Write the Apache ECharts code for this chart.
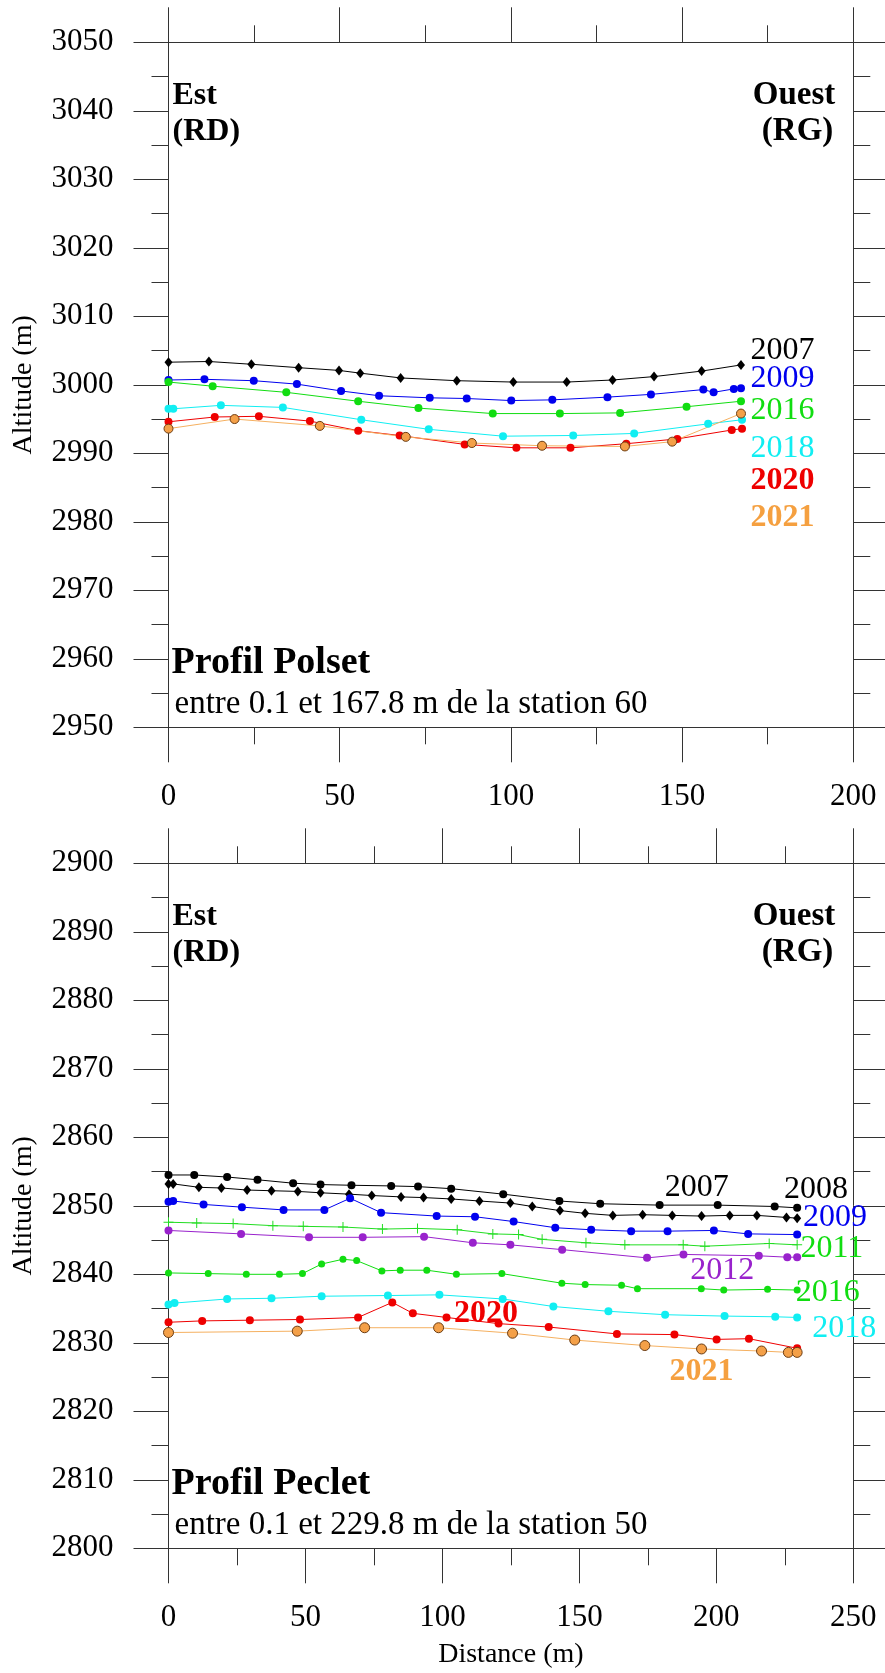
<!DOCTYPE html>
<html><head><meta charset="utf-8">
<script src="https://cdn.jsdelivr.net/npm/echarts@6/dist/echarts.min.js"></script>
<style>html,body{margin:0;padding:0;background:#fff}#c{width:885px;height:1673px}</style>
</head><body><div id="c"></div>
<script>
const FONT = '"Liberation Serif","Times New Roman",serif';

// ---------- Profil Polset (distance m, altitude m) ----------
const polset2007 = [[0,3003.3],[11.8,3003.4],[24.2,3003.0],[38.0,3002.5],[49.8,3002.1],[56.0,3001.7],[67.8,3001.0],[84.2,3000.6],[100.7,3000.4],[116.3,3000.4],[129.7,3000.7],[141.8,3001.2],[155.7,3002.0],[167.2,3002.9]];
const polset2009 = [[0,3000.7],[10.5,3000.8],[24.9,3000.6],[37.5,3000.1],[50.4,2999.1],[61.5,2998.4],[76.3,2998.1],[87.1,2998.0],[100.1,2997.7],[112.1,2997.8],[128.2,2998.2],[140.9,2998.6],[156.2,2999.3],[159.2,2998.9],[165.1,2999.4],[167.2,2999.5]];
const polset2016 = [[0,3000.4],[12.9,2999.8],[34.4,2998.9],[55.4,2997.6],[73.0,2996.6],[94.7,2995.8],[114.3,2995.8],[131.9,2995.9],[151.3,2996.8],[167.2,2997.6]];
const polset2018 = [[0,2996.5],[1.4,2996.5],[15.3,2997.0],[33.4,2996.7],[56.3,2994.9],[76.0,2993.5],[97.7,2992.5],[118.2,2992.6],[136.0,2992.9],[157.6,2994.3],[167.5,2994.9]];
const polset2020 = [[0,2994.6],[13.5,2995.3],[26.4,2995.4],[41.3,2994.7],[55.4,2993.3],[67.5,2992.6],[86.5,2991.3],[101.6,2990.8],[117.4,2990.8],[133.7,2991.4],[148.6,2992.1],[164.5,2993.4],[167.5,2993.6]];
const polset2021 = [[0,2993.6],[19.3,2995.0],[44.2,2994.0],[69.3,2992.4],[88.6,2991.5],[109.1,2991.1],[133.3,2991.0],[147.1,2991.7],[167.2,2995.8]];

// ---------- Profil Peclet ----------
const peclet2007 = [[0,2854.5],[9.4,2854.5],[21.4,2854.2],[32.5,2853.8],[45.5,2853.3],[55.5,2853.1],[66.8,2853.0],[81.3,2852.9],[91.1,2852.8],[103.2,2852.5],[122.2,2851.7],[142.7,2850.7],[157.6,2850.3],[179.3,2850.1],[200.5,2850.1],[221.3,2849.9],[229.5,2849.7]];
const peclet2008 = [[0,2853.2],[1.7,2853.2],[11.1,2852.7],[19.3,2852.6],[28.7,2852.3],[37.6,2852.2],[47.2,2852.1],[55.5,2851.9],[65.9,2851.7],[74.2,2851.5],[84.9,2851.3],[93.1,2851.2],[103.2,2851.0],[113.5,2850.7],[124.8,2850.4],[132.8,2849.9],[142.9,2849.3],[152.1,2848.9],[162.2,2848.6],[173.1,2848.7],[183.9,2848.6],[194.6,2848.5],[204.9,2848.6],[214.8,2848.6],[225.6,2848.3],[229.5,2848.2]];
const peclet2009 = [[0,2850.6],[1.7,2850.7],[12.8,2850.2],[26.8,2849.8],[42.0,2849.4],[56.9,2849.4],[66.3,2851.1],[77.6,2849.0],[97.9,2848.5],[111.9,2848.4],[126.0,2847.7],[141.2,2846.8],[154.3,2846.5],[168.9,2846.3],[182.2,2846.3],[199.1,2846.4],[211.6,2845.9],[229.5,2845.8]];
const peclet2011 = [[0,2847.6],[10.3,2847.5],[23.6,2847.4],[38.1,2847.1],[49.2,2847.0],[63.7,2846.9],[78.1,2846.6],[90.9,2846.7],[105.4,2846.5],[118.4,2845.9],[127.8,2845.8],[136.4,2845.1],[152.4,2844.6],[166.6,2844.3],[187.9,2844.3],[195.8,2844.1],[219.3,2844.5],[229.5,2844.3]];
const peclet2012 = [[0,2846.4],[26.5,2845.9],[51.3,2845.4],[70.9,2845.4],[93.3,2845.5],[111.1,2844.6],[124.8,2844.3],[143.7,2843.6],[174.7,2842.4],[188.0,2842.9],[215.5,2842.7],[225.9,2842.5],[229.5,2842.5]];
const peclet2016 = [[0,2840.2],[14.5,2840.1],[28.4,2840.0],[40.5,2840.0],[48.9,2840.1],[55.9,2841.5],[63.7,2842.2],[68.7,2842.0],[77.9,2840.5],[84.6,2840.6],[94.3,2840.6],[105.1,2840.0],[121.7,2840.1],[143.6,2838.7],[152.1,2838.5],[165.4,2838.4],[171.2,2837.9],[194.5,2837.9],[202.7,2837.7],[218.7,2837.8],[229.5,2837.7]];
const peclet2018 = [[0,2835.6],[2.2,2835.8],[21.4,2836.4],[37.6,2836.5],[55.9,2836.8],[80.1,2836.9],[98.9,2837.0],[122.0,2836.4],[140.5,2835.3],[160.6,2834.6],[181.3,2834.1],[203.0,2833.9],[221.5,2833.8],[229.5,2833.7]];
const peclet2020 = [[0,2833.0],[12.3,2833.2],[29.7,2833.3],[48.0,2833.4],[69.2,2833.7],[81.7,2835.9],[89.2,2834.3],[101.5,2833.7],[120.5,2832.8],[138.8,2832.3],[163.7,2831.3],[184.7,2831.2],[200.1,2830.5],[211.9,2830.6],[229.5,2829.2]];
const peclet2021 = [[0,2831.5],[47.0,2831.7],[71.6,2832.2],[98.6,2832.2],[125.6,2831.4],[148.3,2830.4],[173.9,2829.6],[194.6,2829.1],[216.5,2828.8],[226.3,2828.6],[229.5,2828.6]];

// ---------- tick / axis settings ----------
const polsetXTicks = [0, 200, 50];     // min, max, interval
const polsetYTicks = [2950, 3050, 10];
const pecletXTicks = [0, 250, 50];
const pecletYTicks = [2800, 2900, 10];

// ---------- year labels: [text, x, y, colour, bold] ----------
const C = {k:'#000000', b:'#0000ee', g:'#11dd11', c:'#11eef2', r:'#ee0000', o:'#f5a040', p:'#9922cc'};
const polsetLabels = [['2007',170,3005.0,C.k,false],['2009',170,3000.9,C.b,false],['2016',170,2996.2,C.g,false],['2018',170,2990.7,C.c,false],['2020',170,2986.0,C.r,true],['2021',170,2980.6,C.o,true]];
const pecletLabels = [['2007',181.2,2852.7,C.k,false],['2008',224.7,2852.3,C.k,false],['2009',231.6,2848.3,C.b,false],['2011',230.7,2843.7,C.g,false],['2012',190.5,2840.6,C.p,false],['2016',229,2837.3,C.g,false],['2018',235,2832.1,C.c,false],['2020',104.2,2834.3,C.r,true],['2021',182.9,2825.8,C.o,true]];

const PLUS = 'path://M4.5,0H5.5V4.5H10V5.5H5.5V10H4.5V5.5H0V4.5H4.5Z';
const GRID = [{left:168.5, top:42.3, width:684.8, height:685}, {left:168.5, top:863.3, width:684.8, height:685}];

function xAx(grid, t, pos, show, name) {
  return {
    type:'value', gridIndex:grid, position:pos, min:t[0], max:t[1], interval:t[2],
    axisLine:{show:true, onZero:false, lineStyle:{color:'#333', width:1}},
    axisTick:{show:true, length:35, lineStyle:{color:'#333', width:1}},
    minorTick:{show:true, splitNumber:2, length:17, lineStyle:{color:'#333', width:1}},
    splitLine:{show:false},
    axisLabel:{show:show, margin:54, fontFamily:FONT, fontSize:31, color:'#000', formatter:function(v){return String(v);}},
    name: name || '', nameLocation:'middle', nameGap:92,
    nameTextStyle:{fontFamily:FONT, fontSize:28, color:'#000'}
  };
}
function yAx(grid, t, pos, show) {
  return {
    type:'value', gridIndex:grid, position:pos, min:t[0], max:t[1], interval:t[2],
    axisLine:{show:true, onZero:false, lineStyle:{color:'#333', width:1}},
    axisTick:{show:true, length:35, lineStyle:{color:'#333', width:1}},
    minorTick:{show:true, splitNumber:2, length:17, lineStyle:{color:'#333', width:1}},
    splitLine:{show:false},
    axisLabel:{show:show, margin:55, fontFamily:FONT, fontSize:31, color:'#000', formatter:function(v){return String(v);}},
    name: show ? 'Altitude (m)' : '', nameLocation:'middle', nameGap:131, nameRotate:90,
    nameTextStyle:{fontFamily:FONT, fontSize:28, color:'#000'}
  };
}
function line(name, data, color, symbol, size, ax, extra) {
  const s = {
    name, type:'line', data, xAxisIndex:ax, yAxisIndex:ax,
    symbol, symbolSize:size, showSymbol:true, animation:false,
    lineStyle:{color, width:1}, itemStyle:{color}, z:3
  };
  return Object.assign(s, extra || {});
}
const orangeOpts = {itemStyle:{color:'#f4a048', borderColor:'#6b3d14', borderWidth:1}, lineStyle:{color:'#f5b060', width:1}};

const chart = echarts.init(document.getElementById('c'), null, {renderer:'canvas'});
chart.setOption({
  backgroundColor:'#fff',
  animation:false,
  grid: GRID,
  xAxis: [xAx(0, polsetXTicks, 'bottom', true), xAx(0, polsetXTicks, 'top', false),
          xAx(1, pecletXTicks, 'bottom', true, 'Distance (m)'), xAx(1, pecletXTicks, 'top', false)],
  yAxis: [yAx(0, polsetYTicks, 'left', true), yAx(0, polsetYTicks, 'right', false),
          yAx(1, pecletYTicks, 'left', true), yAx(1, pecletYTicks, 'right', false)],
  series: [
    line('2007', polset2007, C.k, 'diamond', [8,10], 0),
    line('2009', polset2009, '#0000ee', 'circle', 8, 0),
    line('2016', polset2016, '#11dd11', 'circle', 8, 0),
    line('2018', polset2018, '#11eef2', 'circle', 8, 0),
    line('2020', polset2020, '#ee0000', 'circle', 8, 0),
    line('2021', polset2021, '#f4a048', 'circle', 9, 0, orangeOpts),

    line('2007', peclet2007, C.k, 'circle', 8, 2),
    line('2008', peclet2008, C.k, 'diamond', [8,10], 2),
    line('2009', peclet2009, '#0000ee', 'circle', 8, 2),
    line('2011', peclet2011, '#22dd22', PLUS, 10, 2),
    line('2012', peclet2012, '#9922cc', 'circle', 8, 2),
    line('2016', peclet2016, '#11dd11', 'circle', 7, 2),
    line('2018', peclet2018, '#11eef2', 'circle', 8, 2),
    line('2020', peclet2020, '#ee0000', 'circle', 8, 2),
    line('2021', peclet2021, '#f4a048', 'circle', 10, 2, orangeOpts)
  ]
});

// annotation texts
const g = [];
function txt(text, x, y, size, bold, color, align) {
  g.push({type:'text', z:10, style:{text, x, y, fill:color||'#000', align:align||'left', verticalAlign:'middle',
    font:(bold?'bold ':'') + size + 'px ' + FONT}});
}
GRID.forEach(function(gr, i) {
  const t = gr.top, l = gr.left, r = gr.left + gr.width;
  txt('Est', l + 4, t + 53, 32, true);
  txt('(RD)', l + 4, t + 89, 32, true);
  txt('Ouest', r - 18, t + 53, 33, true, '#000', 'right');
  txt('(RG)', r - 20, t + 89, 33, true, '#000', 'right');
  txt(i === 0 ? 'Profil Polset' : 'Profil Peclet', l + 3, t + 621, 38, true);
  txt(i === 0 ? 'entre 0.1 et 167.8 m de la station 60' : 'entre 0.1 et 229.8 m de la station 50', l + 6, t + 662, 33, false);
});
[[polsetLabels, 0], [pecletLabels, 2]].forEach(function(pair) {
  pair[0].forEach(function(lb) {
    const p = chart.convertToPixel({xAxisIndex:pair[1], yAxisIndex:pair[1]}, [lb[1], lb[2]]);
    txt(lb[0], p[0], p[1], 32, lb[4], lb[3]);
  });
});
chart.setOption({graphic: g});
</script></body></html>
